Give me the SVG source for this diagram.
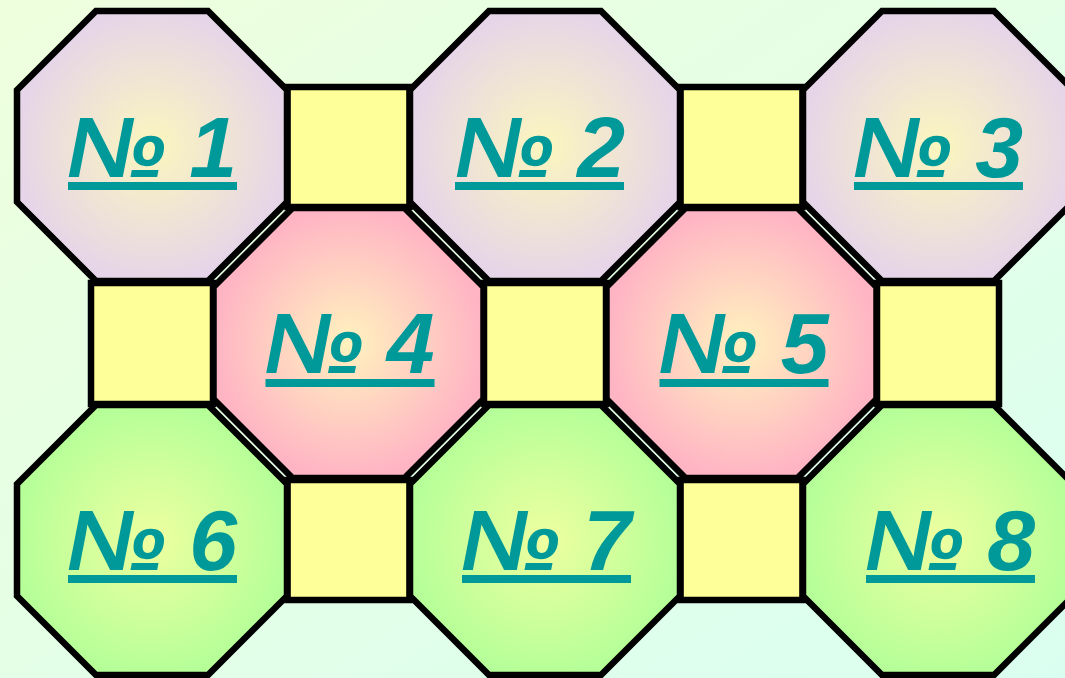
<svg xmlns="http://www.w3.org/2000/svg" width="1065" height="678" viewBox="0 0 1065 678">
<style>
.sq{fill:#FFFF99;stroke:#000;stroke-width:6.5;}
.oct{stroke:#000;stroke-width:6.5;stroke-linejoin:miter;}
.r1{fill:url(#g1);}
.r2{fill:url(#g2);}
.r3{fill:url(#g3);}
.lbl{font-family:"Liberation Sans",Arial,sans-serif;font-weight:bold;font-style:italic;font-size:86px;fill:#009999;text-anchor:middle;}
.ul{fill:#009999;}
</style>
<defs>
<linearGradient id="bg" x1="0" y1="0" x2="1" y2="1">
<stop offset="0" stop-color="#EEFFDD"/>
<stop offset="1" stop-color="#DAFFF0"/>
</linearGradient>
<radialGradient id="g1" cx="0.5" cy="0.5" r="0.5">
<stop offset="0" stop-color="#FBF6BE"/>
<stop offset="1" stop-color="#E6D5E8"/>
</radialGradient>
<radialGradient id="g2" cx="0.5" cy="0.5" r="0.5">
<stop offset="0" stop-color="#FFF2BE"/>
<stop offset="1" stop-color="#FFB4C4"/>
</radialGradient>
<radialGradient id="g3" cx="0.5" cy="0.5" r="0.5">
<stop offset="0" stop-color="#EEFFA0"/>
<stop offset="1" stop-color="#B6FF98"/>
</radialGradient>
<polygon id="octShape" points="-56,-135 56,-135 135,-56 135,56 56,135 -56,135 -135,56 -135,-56"/>
<rect id="ulShape" class="ul" x="-84.5" y="0" width="169" height="8"/>
</defs>
<rect x="0" y="0" width="1065" height="678" fill="url(#bg)"/>
<g id="squares">
<rect id="sq1" class="sq" x="287.5" y="87" width="122" height="120"/>
<rect id="sq2" class="sq" x="680.5" y="87" width="122" height="120"/>
<rect id="sq3" class="sq" x="91" y="283" width="122" height="121"/>
<rect id="sq4" class="sq" x="484" y="283" width="122" height="121"/>
<rect id="sq5" class="sq" x="877" y="283" width="122" height="121"/>
<rect id="sq6" class="sq" x="287.5" y="480" width="122" height="120"/>
<rect id="sq7" class="sq" x="680.5" y="480" width="122" height="120"/>
</g>
<g id="n1" transform="translate(152,146)"><use href="#octShape" class="oct r1"/><text class="lbl" x="0" y="31">№ 1</text><use href="#ulShape" x="0.5" y="36"/></g>
<g id="n2" transform="translate(545,146)"><use href="#octShape" class="oct r1"/><text class="lbl" x="-5" y="31">№ 2</text><use href="#ulShape" x="-5.5" y="36"/></g>
<g id="n3" transform="translate(938,146)"><use href="#octShape" class="oct r1"/><text class="lbl" x="0" y="31">№ 3</text><use href="#ulShape" x="0.5" y="36"/></g>
<g id="n4" transform="translate(348.5,343)"><use href="#octShape" class="oct r2"/><text class="lbl" x="1" y="30">№ 4</text><use href="#ulShape" x="1.5" y="36"/></g>
<g id="n5" transform="translate(741.5,343)"><use href="#octShape" class="oct r2"/><text class="lbl" x="2" y="30">№ 5</text><use href="#ulShape" x="2.5" y="36"/></g>
<g id="n6" transform="translate(152,540)"><use href="#octShape" class="oct r3"/><text class="lbl" x="0" y="30">№ 6</text><use href="#ulShape" x="0.5" y="35"/></g>
<g id="n7" transform="translate(545,540)"><use href="#octShape" class="oct r3"/><text class="lbl" x="1" y="30">№ 7</text><use href="#ulShape" x="1.5" y="35"/></g>
<g id="n8" transform="translate(938,540)"><use href="#octShape" class="oct r3"/><text class="lbl" x="12" y="30">№ 8</text><use href="#ulShape" x="12.5" y="35"/></g>
</svg>
